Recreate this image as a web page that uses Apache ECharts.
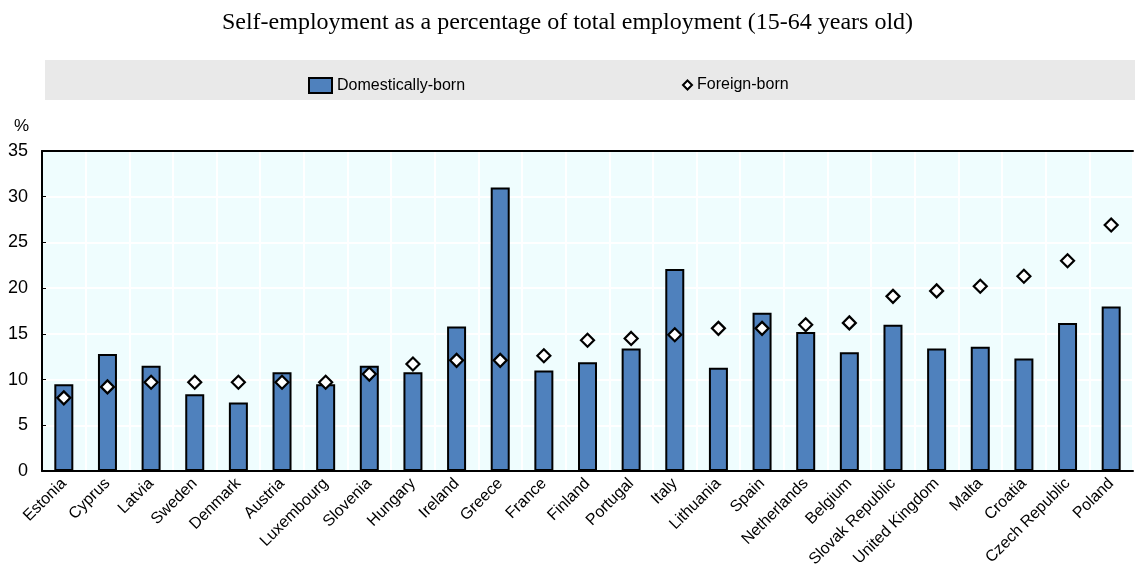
<!DOCTYPE html>
<html>
<head>
<meta charset="utf-8">
<script src="https://cdn.jsdelivr.net/npm/echarts@6/dist/echarts.min.js"></script>
<style>
html, body { margin: 0; padding: 0; background: #fff; }
#chart { width: 1135px; height: 569px; }
</style>
</head>
<body>
<div id="chart"></div>
<script>
// countries, sorted by foreign-born share
const countries = ['Estonia', 'Cyprus', 'Latvia', 'Sweden', 'Denmark', 'Austria', 'Luxembourg', 'Slovenia', 'Hungary', 'Ireland',
    'Greece', 'France', 'Finland', 'Portugal', 'Italy', 'Lithuania', 'Spain', 'Netherlands', 'Belgium', 'Slovak Republic',
    'United Kingdom', 'Malta', 'Croatia', 'Czech Republic', 'Poland']
// Domestically-born (bars)
const domestic = [9.5, 12.8, 11.5, 8.4, 7.5, 10.8, 9.5, 11.5, 10.8, 15.8,
    31.0, 11.0, 11.9, 13.4, 22.1, 11.3, 17.3, 15.2, 13.0, 16.0,
    13.4, 13.6, 12.3, 16.2, 18.0]
// Foreign-born (diamonds)
const foreign = [8.0, 9.2, 9.7, 9.7, 9.7, 9.7, 9.7, 10.6, 11.7, 12.1,
    12.1, 12.6, 14.3, 14.5, 14.9, 15.6, 15.6, 16.0, 16.2, 19.1,
    19.7, 20.2, 21.3, 23.0, 26.9]
const yTicks = { min: 0, max: 35, interval: 5 }

const sans = "'Liberation Sans', Arial, sans-serif"

const myChart = echarts.init(document.getElementById('chart'), null, { renderer: 'canvas' })
myChart.setOption({
    animation: false,
    title: {
        text: 'Self-employment as a percentage of total employment (15-64 years old)',
        left: 'center',
        top: 6,
        textStyle: {
            fontFamily: "'Liberation Serif', 'Times New Roman', serif",
            fontWeight: 'normal',
            fontSize: 24,
            color: '#000'
        }
    },
    graphic: [{
        type: 'rect',
        z: -1,
        shape: { x: 45, y: 60, width: 1090, height: 40 },
        style: { fill: '#e9e9e9' }
    }],
    legend: [{
        data: ['Domestically-born'],
        left: 303,
        top: 72,
        icon: 'rect',
        itemWidth: 23,
        itemHeight: 15,
        textStyle: { fontFamily: sans, fontSize: 16, color: '#000' }
    }, {
        data: ['Foreign-born'],
        left: 677,
        top: 72,
        itemWidth: 9,
        itemHeight: 9,
        textStyle: { fontFamily: sans, fontSize: 16, color: '#000' }
    }],
    grid: {
        left: 42,
        right: 2,
        top: 151,
        bottom: 98,
        outerBoundsMode: 'none',
        show: true,
        backgroundColor: '#effdfe',
        borderWidth: 0
    },
    xAxis: [{
        type: 'category',
        data: countries,
        boundaryGap: true,
        axisLine: { lineStyle: { color: '#000', width: 2 } },
        axisTick: { inside: true, length: 5, lineStyle: { color: '#000', width: 2 } },
        splitLine: { show: true, lineStyle: { color: '#fff', width: 2 } },
        axisLabel: {
            rotate: 45,
            interval: 0,
            margin: 10,
            fontFamily: sans,
            fontSize: 16,
            color: '#000'
        }
    }, {
        type: 'category',
        data: countries,
        position: 'top',
        axisLine: { lineStyle: { color: '#000', width: 2 } },
        axisTick: { show: false },
        axisLabel: { show: false }
    }],
    yAxis: {
        type: 'value',
        min: yTicks.min,
        max: yTicks.max,
        interval: yTicks.interval,
        name: '%',
        nameLocation: 'end',
        nameGap: 16,
        nameTextStyle: { fontFamily: sans, fontSize: 17, color: '#000', align: 'right', padding: [0, 13, 0, 0] },
        axisLine: { show: true, lineStyle: { color: '#000', width: 2 } },
        axisTick: { show: true, inside: true, length: 4, lineStyle: { color: '#000', width: 1 } },
        splitLine: { lineStyle: { color: '#fff', width: 2 } },
        axisLabel: { margin: 14, fontFamily: sans, fontSize: 18, color: '#000' }
    },
    series: [{
        name: 'Domestically-born',
        type: 'bar',
        barWidth: 19,
        data: domestic,
        itemStyle: { color: '#4f81bd', borderColor: '#000', borderWidth: 2 }
    }, {
        name: 'Foreign-born',
        type: 'scatter',
        symbol: 'diamond',
        symbolSize: 13,
        data: foreign,
        z: 3,
        itemStyle: { color: '#fff', borderColor: '#000', borderWidth: 2.2, opacity: 1 }
    }]
})
</script>
</body>
</html>
